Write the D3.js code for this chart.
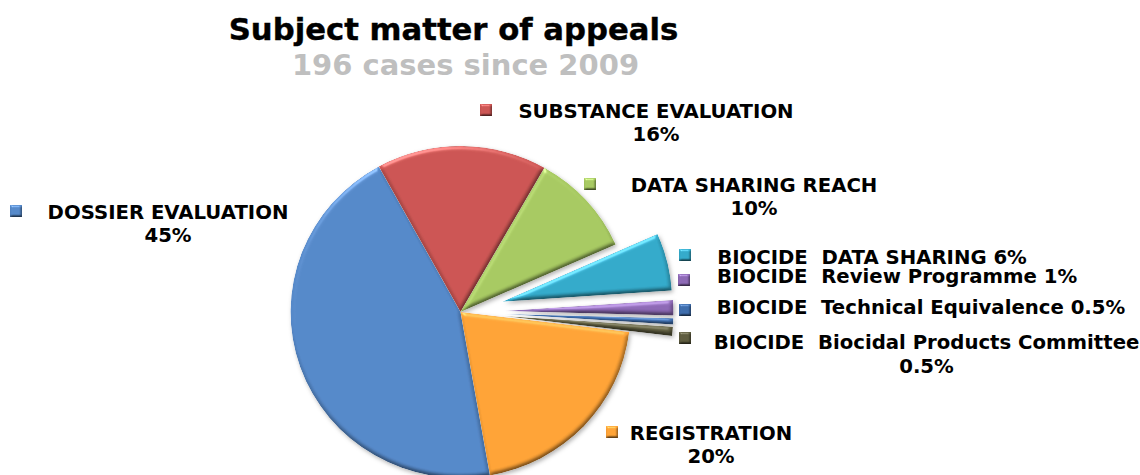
<!DOCTYPE html>
<html>
<head>
<meta charset="utf-8">
<script src="https://cdn.jsdelivr.net/npm/d3@7"></script>
<style>
  html, body { margin: 0; padding: 0; background: #fff; overflow: hidden; }
  svg { display: block; }
  text { font-family: "DejaVu Sans", Verdana, sans-serif; font-weight: bold; white-space: pre; }
</style>
</head>
<body>
<div id="chart"></div>
<script>
// printed labels
const categories = ['DOSSIER EVALUATION', 'SUBSTANCE EVALUATION', 'DATA SHARING REACH',
    'BIOCIDE  DATA SHARING', 'BIOCIDE  Review Programme', 'BIOCIDE  Technical Equivalence',
    'BIOCIDE  Biocidal Products Committee', 'REGISTRATION'];
const printedPct = ['45%', '16%', '10%', '6%', '1%', '0.5%', '0.5%', '20%'];
// slice sizes as drawn in the picture (they differ a little from the printed numbers)
const sliceShare = [44.8, 16.2, 10.1, 5.6, 1.5, 0.6, 0.9, 20.3];
const exploded = [false, false, false, true, true, true, true, false];
const colors = ['#5588c8', '#cb5553', '#a6c861', '#33a9c9', '#8c68b4', '#3d6cab', '#5d5b3e', '#fda236'];

const width = 1140, height = 475;
// the reference pie is slightly wider than it is tall
const cx = 460.5, cy = 312, radius = 166, stretchX = 1.024, explode = 43;
const startDeg = 170;

// layout of the label blocks: marker x/y, text anchor x, baselines
const labelLayout = [
    { kx: 16, ky: 211, x: 168, y: 219, y2: 242 },
    { kx: 486, ky: 110, x: 656, y: 118, y2: 141 },
    { kx: 590, ky: 184, x: 754, y: 192, y2: 215 },
    { kx: 685, ky: 255, x: 872, y: 264, inline: true },
    { kx: 684, ky: 280, x: 897, y: 283, inline: true },
    { kx: 685, ky: 310, x: 921, y: 314, inline: true },
    { kx: 685, ky: 338, x: 926.5, y: 349, y2: 373 },
    { kx: 612, ky: 432, x: 711, y: 440, y2: 463 }
];

let svg = d3.select('#chart')
    .append('svg')
    .attr('width', width)
    .attr('height', height);

let defs = svg.append('defs');

function addBevel(id, blur, scale) {
    let f = defs.append('filter')
        .attr('id', id)
        .attr('x', '-30%').attr('y', '-30%')
        .attr('width', '160%').attr('height', '160%')
        .attr('color-interpolation-filters', 'sRGB');
    f.append('feGaussianBlur')
        .attr('in', 'SourceAlpha')
        .attr('stdDeviation', blur)
        .attr('result', 'blur');
    f.append('feDiffuseLighting')
        .attr('in', 'blur')
        .attr('surfaceScale', scale)
        .attr('diffuseConstant', 1.414)
        .attr('lighting-color', '#fff')
        .attr('result', 'diff')
        .append('feDistantLight')
        .attr('azimuth', 250)
        .attr('elevation', 45);
    // keep part of the base colour so the dark rim does not go black
    f.append('feComposite')
        .attr('in', 'SourceGraphic')
        .attr('in2', 'diff')
        .attr('operator', 'arithmetic')
        .attr('k1', 0.6).attr('k2', 0.4).attr('k3', 0).attr('k4', 0)
        .attr('result', 'shaded');
    f.append('feSpecularLighting')
        .attr('in', 'blur')
        .attr('surfaceScale', scale)
        .attr('specularConstant', 0.9)
        .attr('specularExponent', 25)
        .attr('lighting-color', '#fff')
        .attr('result', 'spec')
        .append('feDistantLight')
        .attr('azimuth', 250)
        .attr('elevation', 30);
    f.append('feComposite')
        .attr('in', 'spec')
        .attr('in2', 'SourceAlpha')
        .attr('operator', 'in')
        .attr('result', 'specIn');
    f.append('feComposite')
        .attr('in', 'shaded')
        .attr('in2', 'specIn')
        .attr('operator', 'arithmetic')
        .attr('k1', 0).attr('k2', 1).attr('k3', 0.3).attr('k4', 0)
        .attr('result', 'lit');
    f.append('feComposite')
        .attr('in', 'lit')
        .attr('in2', 'SourceAlpha')
        .attr('operator', 'in');
}
addBevel('bevel', 2, 2.2);
addBevel('keyBevel', 1.2, 1.8);

let shadow = defs.append('filter')
    .attr('id', 'pieShadow')
    .attr('x', '-10%').attr('y', '-10%')
    .attr('width', '120%').attr('height', '120%');
shadow.append('feDropShadow')
    .attr('dx', 1.5).attr('dy', 2)
    .attr('stdDeviation', 2)
    .attr('flood-color', '#000')
    .attr('flood-opacity', 0.3);

let pie = d3.pie()
    .sort(null)
    .value(d => d)
    .startAngle(startDeg * Math.PI / 180)
    .endAngle((startDeg + 360) * Math.PI / 180);

let arc = d3.arc()
    .innerRadius(0)
    .outerRadius(radius);

let arcs = pie(sliceShare);

svg.append('g')
    .attr('class', 'pie')
    .attr('filter', 'url(#pieShadow)')
    .selectAll('path')
    .data(arcs)
    .join('path')
    .attr('d', arc)
    .attr('fill', (d, i) => colors[i])
    .attr('filter', 'url(#bevel)')
    .attr('transform', (d, i) => {
        let mid = (d.startAngle + d.endAngle) / 2;
        let off = exploded[i] ? explode : 0;
        return `translate(${cx + off * Math.sin(mid)}, ${cy - off * Math.cos(mid)}) scale(${stretchX}, 1)`;
    });

svg.append('text')
    .attr('x', 453.5).attr('y', 40)
    .attr('text-anchor', 'middle')
    .style('font-size', '30.7px')
    .style('fill', '#000')
    .style('stroke', '#000')
    .style('stroke-width', 0.4)
    .text('Subject matter of appeals');

svg.append('text')
    .attr('x', 465.5).attr('y', 75)
    .attr('text-anchor', 'middle')
    .style('font-size', '29px')
    .style('fill', '#bfbfbf')
    .text('196 cases since 2009');

// legend markers
svg.append('g')
    .selectAll('rect')
    .data(categories)
    .join('rect')
    .attr('x', (d, i) => labelLayout[i].kx - 6)
    .attr('y', (d, i) => labelLayout[i].ky - 6)
    .attr('width', 12)
    .attr('height', 12)
    .attr('fill', (d, i) => colors[i])
    .attr('filter', 'url(#keyBevel)');

let labels = svg.append('g')
    .selectAll('g')
    .data(categories)
    .join('g')
    .style('font-size', '19.7px')
    .style('fill', '#000');

labels.append('text')
    .attr('x', (d, i) => labelLayout[i].x)
    .attr('y', (d, i) => labelLayout[i].y)
    .attr('text-anchor', 'middle')
    .text((d, i) => labelLayout[i].inline ? `${d} ${printedPct[i]}` : d);

labels.filter((d, i) => !labelLayout[i].inline)
    .append('text')
    .attr('x', d => labelLayout[categories.indexOf(d)].x)
    .attr('y', d => labelLayout[categories.indexOf(d)].y2)
    .attr('text-anchor', 'middle')
    .text(d => printedPct[categories.indexOf(d)]);
</script>
</body>
</html>
